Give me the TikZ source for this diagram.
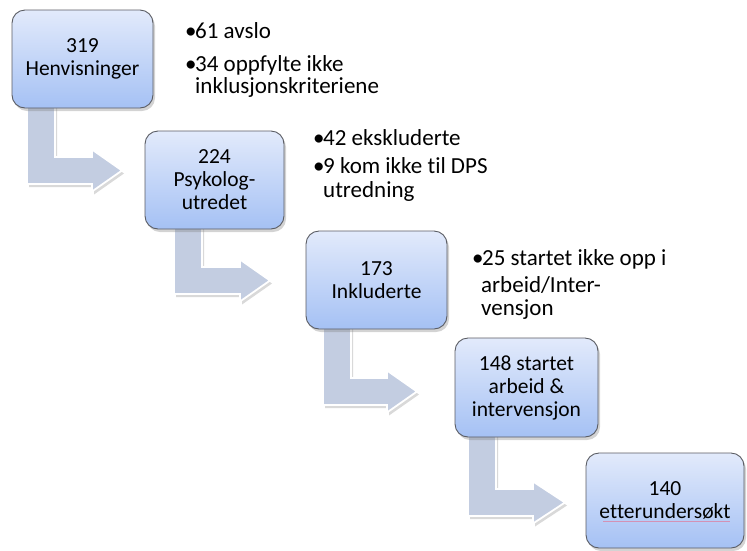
\documentclass[tikz,border=0pt]{standalone}
\usepackage{fontspec}
\setmainfont{Carlito}[Ligatures={NoCommon}]
\usetikzlibrary{shadows}
\definecolor{boxtop}{HTML}{E2EAFB}
\definecolor{boxbot}{HTML}{A5C1F4}
\definecolor{boxline}{HTML}{5A5C63}
\definecolor{arrfill}{HTML}{C3CDE1}
\definecolor{squiggle}{HTML}{E07A9A}
\tikzset{
  stepbox/.style={rectangle, rounded corners=13pt, draw=boxline, line width=0.9pt,
    top color=boxtop, bottom color=boxbot, align=center,
    font=\fontsize{21.5}{23}\selectfont, inner sep=2pt,
    drop shadow={shadow xshift=2pt, shadow yshift=-3pt, opacity=0.35, fill=gray}},
  bentarrow/.style={fill=arrfill, draw=white, line width=1.8pt, line join=miter,
    drop shadow={shadow xshift=2pt, shadow yshift=-3pt, opacity=0.3, fill=gray}},
  bul/.style={anchor=base west, inner sep=0pt, font=\fontsize{23}{25}\selectfont}
}
\newcommand\bentarr[5]{% sx, ty, by, hx, tx
  \path[bentarrow] (#1,#2) -- (#1+28,#2) -- (#1+28,#3) -- (#4,#3) -- (#4,#3-7.5)
    -- (#5,#3+13.5) -- (#4,#3+34.5) -- (#4,#3+27) -- (#1,#3+27) -- cycle;}
\newcommand\bu{\makebox[10pt][l]{•}}
\begin{document}
\begin{tikzpicture}[x=1pt,y=-1pt]
\useasboundingbox (0,0) rectangle (747,550);
% arrows (behind the boxes)
\bentarr{27}{104}{157}{92}{122}
\bentarr{174}{225}{267}{240}{270}
\bentarr{323}{325}{378}{387}{417}
\bentarr{468}{433}{489}{533}{565}
% boxes
\node[stepbox, minimum width=141, minimum height=98] (b1) at (82.5,59) {319\\Henvisninger};
\node[stepbox, minimum width=139, minimum height=98] (b2) at (214.5,180) {224\\Psykolog-\\utredet};
\node[stepbox, minimum width=141, minimum height=98] (b3) at (376.5,280) {173\\Inkluderte};
\node[stepbox, minimum width=143, minimum height=99] (b4) at (526.5,387.5) {148 startet\\arbeid \&\\intervensjon};
\node[stepbox, minimum width=158, minimum height=95] (b5) at (665,500.5) {140\\etterundersøkt};
\draw[squiggle, line width=0.6pt, opacity=0.7] (603,521) -- (730,521);
% bullet texts
\node[bul] (t1a) at (185,38) {\bu 61 avslo};
\node[bul] (t1b) at (185,71) {\bu 34 oppfylte ikke};
\node[bul] (t1c) at (195,93) {inklusjonskriteriene};
\node[bul] (t2a) at (313,145) {\bu 42 ekskluderte};
\node[bul] (t2b) at (313,173) {\bu 9 kom ikke til DPS};
\node[bul] (t2c) at (323,197) {utredning};
\node[bul] (t3a) at (472,265) {\bu 25 startet ikke opp i};
\node[bul] (t3b) at (481,292) {arbeid/Inter-};
\node[bul] (t3c) at (481,315) {vensjon};
\end{tikzpicture}
\end{document}
